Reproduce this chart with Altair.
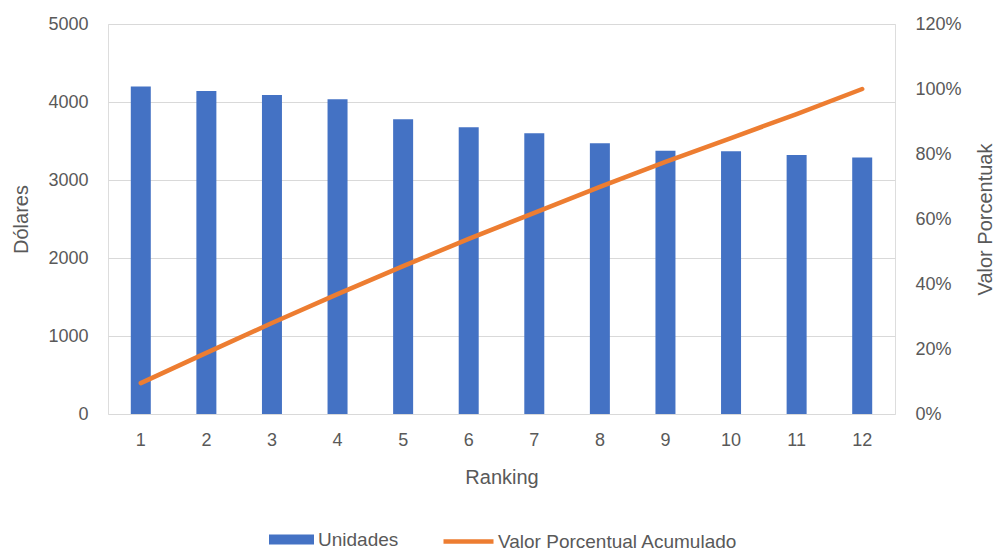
import altair as alt
import pandas as pd

ranking = [1, 2, 3, 4, 5, 6, 7, 8, 9, 10, 11, 12]
unidades = [4200, 4140, 4090, 4035, 3780, 3675, 3600, 3470, 3375, 3370, 3320, 3290]
acumulado = [0.095, 0.188, 0.280, 0.369, 0.455, 0.539, 0.619, 0.699, 0.776, 0.849, 0.923, 1.0]

df = pd.DataFrame({"Ranking": ranking, "Unidades": unidades, "Acumulado": acumulado})

FONT = "Liberation Sans"
GRAY = "#595959"
BLUE = "#4472C4"
ORANGE = "#ED7D31"
LAB = 18
TIT = 20
LEG = 19

x = alt.X("Ranking:O", title="Ranking",
          scale=alt.Scale(paddingInner=0.7, paddingOuter=0.35),
          axis=alt.Axis(labelAngle=0, domain=False, ticks=False, labelPadding=17,
                        titlePadding=18, labelFontSize=LAB, titleFontSize=TIT,
                        labelColor=GRAY, titleColor=GRAY, titleFontWeight="normal"))

bars = alt.Chart(df).mark_bar(color=BLUE, width=20).encode(
    x=x,
    y=alt.Y("Unidades:Q", title="Dólares",
            scale=alt.Scale(domain=[0, 5000]),
            axis=alt.Axis(values=[0, 1000, 2000, 3000, 4000, 5000], format="d",
                          domain=False, ticks=False,
                          labelPadding=20, titlePadding=16, gridColor="#D9D9D9",
                          labelFontSize=LAB, titleFontSize=TIT, labelColor=GRAY,
                          titleColor=GRAY, titleFontWeight="normal")),
    color=alt.Color("serie:N",
                    scale=alt.Scale(domain=["Unidades"], range=[BLUE]),
                    legend=alt.Legend(title=None, orient="none", legendX=161, legendY=493,
                                      symbolType="M-1,-0.22H1V0.22H-1Z", symbolSize=2025,
                                      symbolStrokeWidth=0, labelFontSize=LEG, labelColor=GRAY,
                                      labelFont=FONT, padding=0, symbolOffset=0,
                                      labelLimit=400)),
).transform_calculate(serie="'Unidades'")

line = alt.Chart(df).mark_line(color=ORANGE, strokeWidth=4.5, strokeCap="round").encode(
    x=x,
    y=alt.Y("Acumulado:Q", title="Valor Porcentuak",
            scale=alt.Scale(domain=[0, 1.2]),
            axis=alt.Axis(orient="right", format="%", values=[0, 0.2, 0.4, 0.6, 0.8, 1.0, 1.2],
                          grid=False, domain=False, ticks=False, labelPadding=20,
                          titlePadding=34, labelFontSize=LAB, titleFontSize=TIT,
                          labelColor=GRAY, titleColor=GRAY, titleFontWeight="normal",
                          titleAngle=270)),
    stroke=alt.Stroke("serie:N",
                      scale=alt.Scale(domain=["Valor Porcentual Acumulado"], range=[ORANGE]),
                      legend=alt.Legend(title=None, orient="none", legendX=333, legendY=490,
                                        symbolType="stroke", symbolSize=2500,
                                        symbolStrokeWidth=4.5, labelFontSize=LEG,
                                        labelColor=GRAY, labelFont=FONT, padding=0,
                                        labelOffset=2, labelLimit=400)),
).transform_calculate(serie="'Valor Porcentual Acumulado'")

chart = alt.layer(bars, line).resolve_scale(
    y="independent", color="independent", stroke="independent"
).properties(
    width=787, height=390,
    autosize=alt.AutoSizeParams(type="none"),
    padding={"left": 108, "top": 24, "right": 102, "bottom": 136},
).configure_view(stroke=None).configure_axis(
    labelFont=FONT, titleFont=FONT
).configure(background="white")

chart.save("out.html", embed_options={"renderer": "svg", "actions": False})
